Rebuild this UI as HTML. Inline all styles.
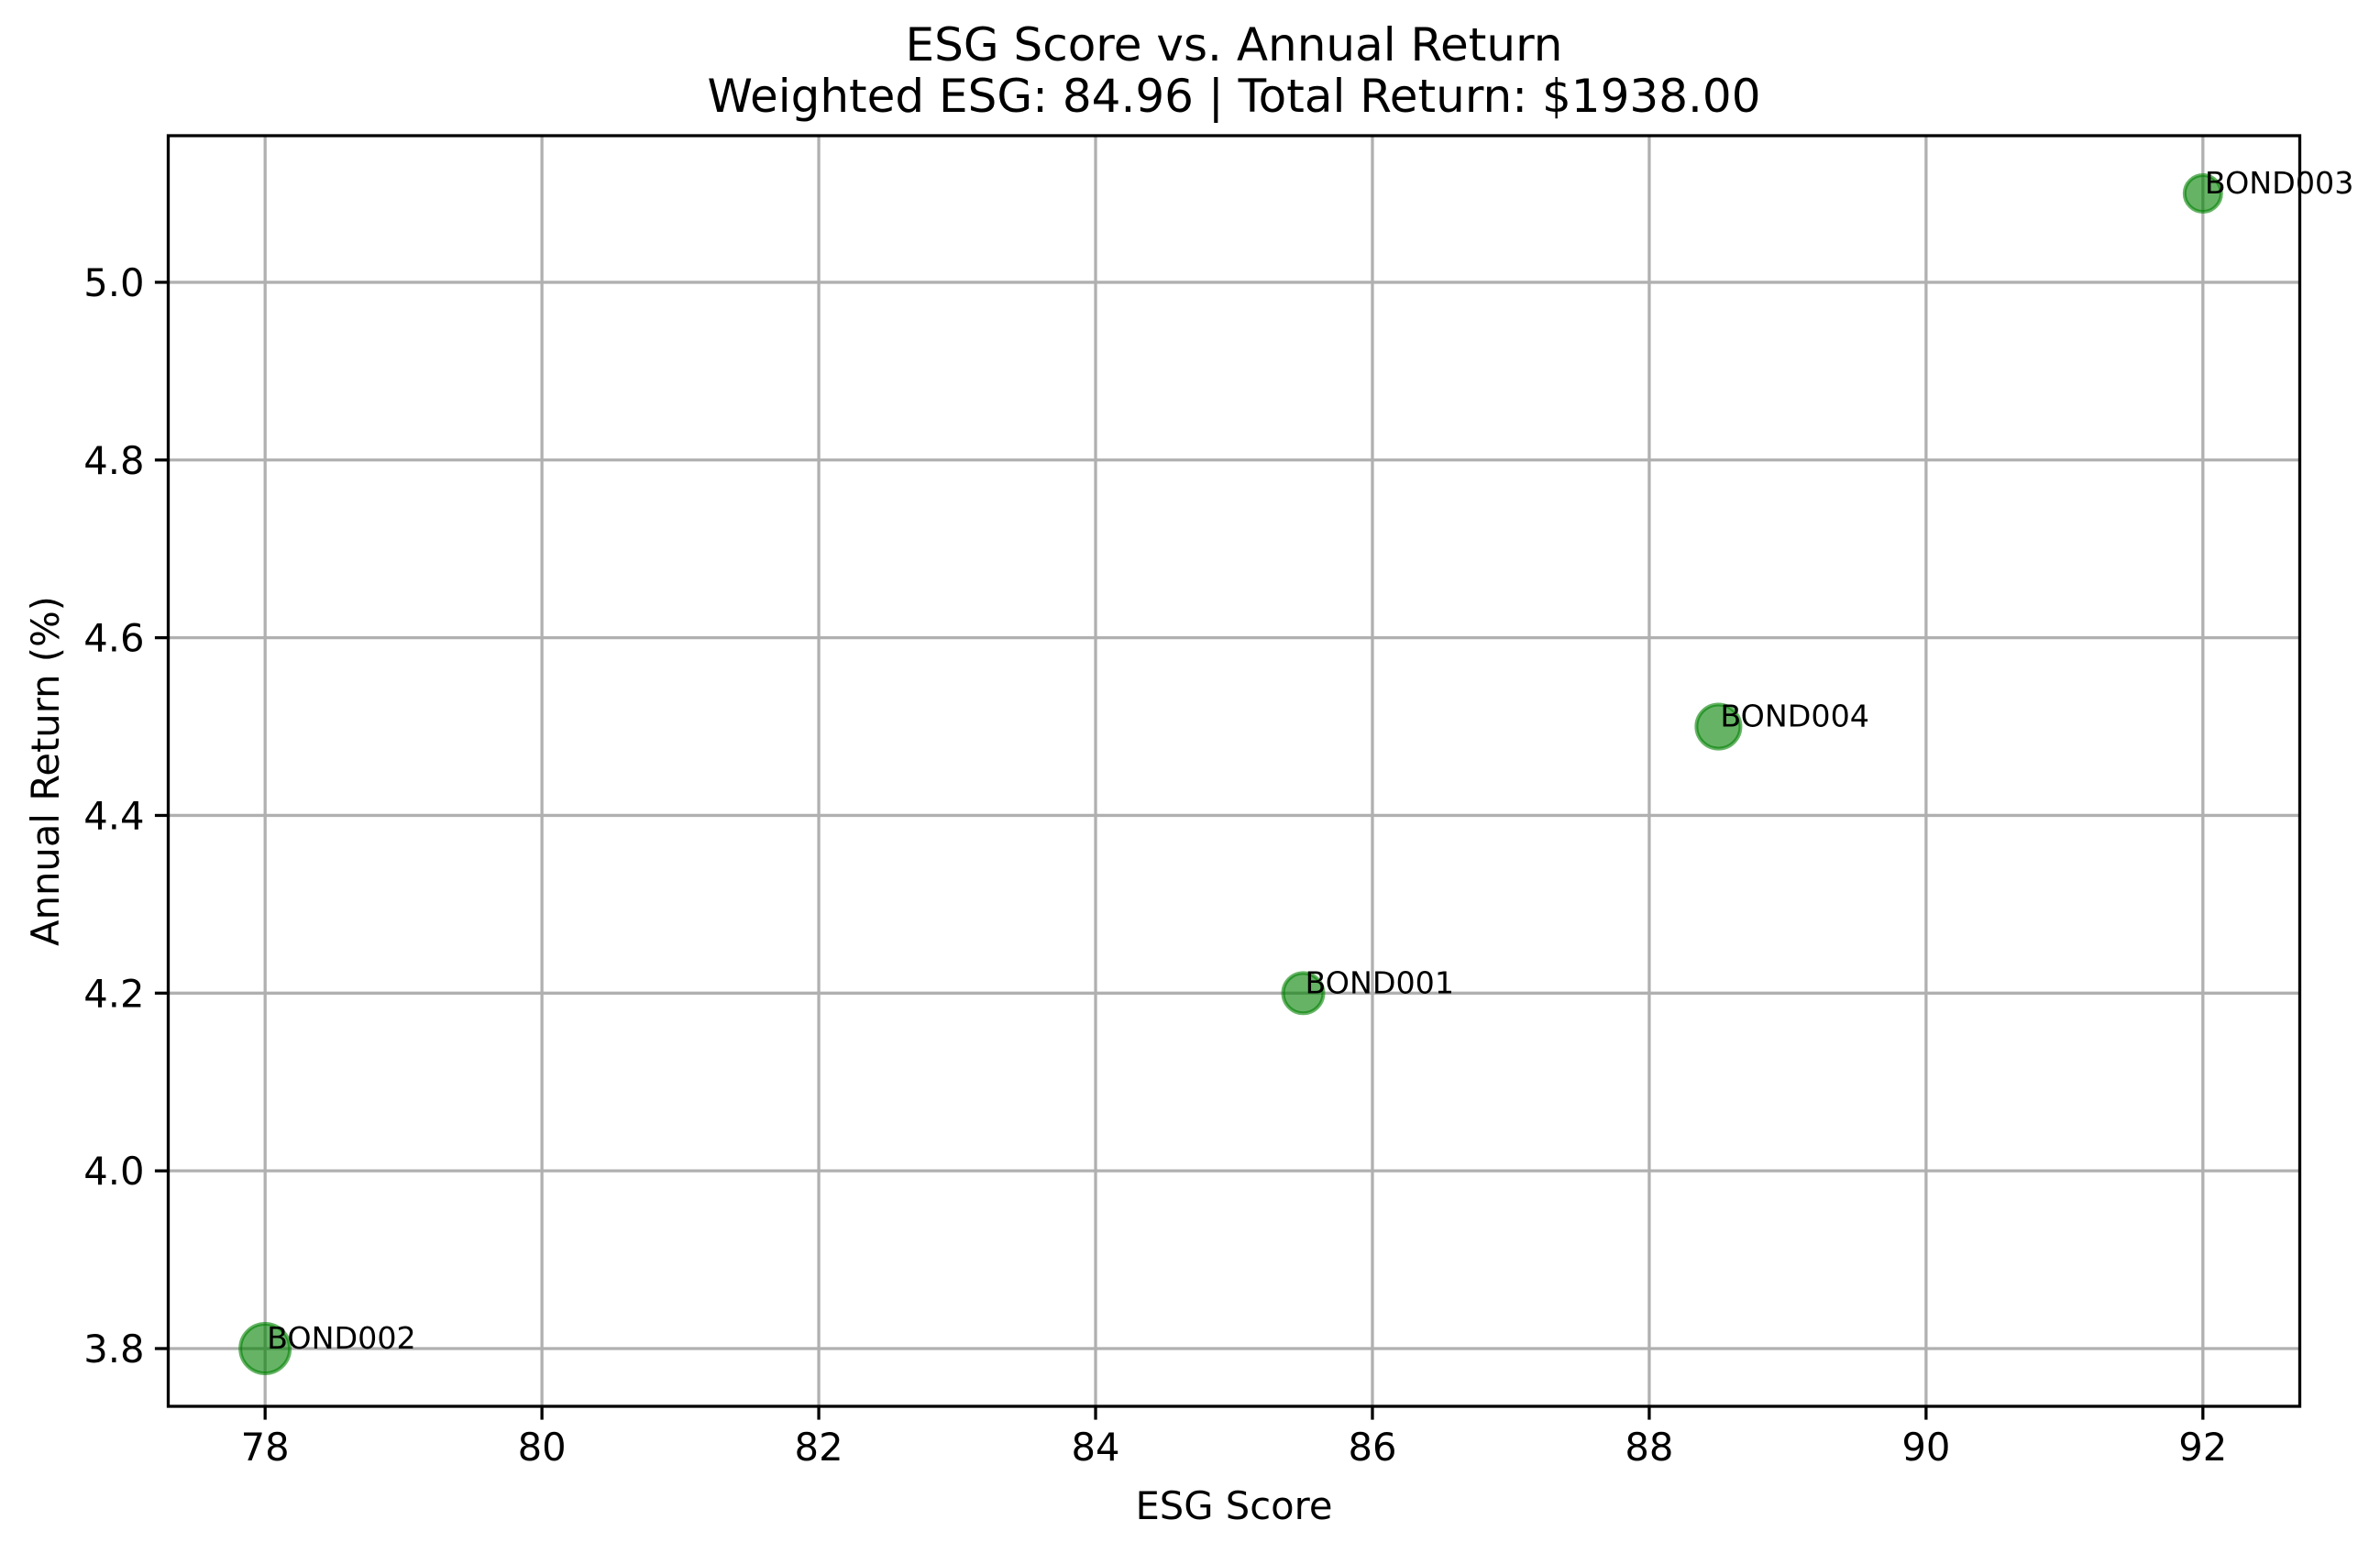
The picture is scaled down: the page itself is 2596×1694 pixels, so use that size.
<!DOCTYPE html>
<html><head><meta charset="utf-8"><style>
html,body{margin:0;padding:0;background:#fff}
svg{display:block;font-family:"DejaVu Sans","Liberation Sans",sans-serif}
</style></head><body>
<svg id="chart" width="2596" height="1694" viewBox="0 0 2596 1694" xmlns="http://www.w3.org/2000/svg">
<rect width="2596" height="1694" fill="#fff"/>
<text x="1346" y="66" font-size="50" text-anchor="middle">ESG Score vs. Annual Return</text>
<text x="1346" y="122" font-size="50" text-anchor="middle">Weighted ESG: 84.96 | Total Return: $1938.00</text>
<g id="grid"></g>
<g id="ticks"></g>
<g id="points"></g>
<rect x="183.5" y="148" width="2325" height="1386" fill="none" stroke="#000" stroke-width="3.3"/>
<text x="1346" y="1657" font-size="41.7" text-anchor="middle">ESG Score</text>
<text x="64" y="841" font-size="41.7" text-anchor="middle" transform="rotate(-90 64 841)">Annual Return (%)</text>
</svg>
<script>
const names = ["BOND001","BOND002","BOND003","BOND004"];
const esgScores = [85.5, 78, 92, 88.5];
const annualReturns = [4.2, 3.8, 5.1, 4.5];
const markerSizes = [111, 168, 92, 133];
const xTicks = [78,80,82,84,86,88,90,92];
const yTicks = [3.8,4.0,4.2,4.4,4.6,4.8,5.0];

const NS="http://www.w3.org/2000/svg";
const L=183.5,R=2508.5,T=148,B=1534;
const xmin=Math.min(...esgScores),xmax=Math.max(...esgScores);
const ymin=Math.min(...annualReturns),ymax=Math.max(...annualReturns);
const xm=(xmax-xmin)*0.05,ym=(ymax-ymin)*0.05;
const x0=xmin-xm,x1=xmax+xm,y0=ymin-ym,y1=ymax+ym;
function sx(v){return L+(v-x0)/(x1-x0)*(R-L);}
function sy(v){return B-(v-y0)/(y1-y0)*(B-T);}
function mk(tag,attrs,parent){const e=document.createElementNS(NS,tag);for(const k in attrs)e.setAttribute(k,attrs[k]);parent.appendChild(e);return e;}
const grid=document.getElementById('grid'),ticks=document.getElementById('ticks'),pts=document.getElementById('points');
xTicks.forEach(v=>{
  const x=sx(v);
  const g=mk('line',{x1:x,x2:x,y1:T,y2:B,stroke:'#b0b0b0','stroke-width':3.3},grid);
  
  
  mk('line',{x1:x,x2:x,y1:B,y2:B+14.6,stroke:'#000','stroke-width':3.3},ticks);
  const t=mk('text',{x:x,y:B+59,'font-size':41.7,'text-anchor':'middle'},ticks);
  t.textContent=String(v);
  
  
});
yTicks.forEach(v=>{
  const y=sy(v);
  const g=mk('line',{x1:L,x2:R,y1:y,y2:y,stroke:'#b0b0b0','stroke-width':3.3},grid);
  
  
  mk('line',{x1:L-14.6,x2:L,y1:y,y2:y,stroke:'#000','stroke-width':3.3},ticks);
  const t=mk('text',{x:L-26,y:y+15,'font-size':41.7,'text-anchor':'end'},ticks);
  t.textContent=v.toFixed(1);
  
  
});
names.forEach((n,i)=>{
  const cx=sx(esgScores[i]),cy=sy(annualReturns[i]);
  const r=Math.sqrt(markerSizes[i])/2*300/72;
  const c=mk('circle',{cx:cx,cy:cy,r:r,fill:'rgba(0,128,0,0.6)',stroke:'rgba(0,128,0,0.6)','stroke-width':4},pts);
  
  
  const t=mk('text',{x:cx+2,y:cy,'font-size':33.3},pts);
  t.textContent=n;
  
  
});
</script>
</body></html>
